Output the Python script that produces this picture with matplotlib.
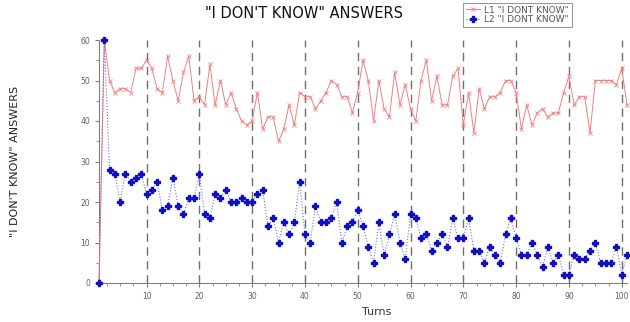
import matplotlib
matplotlib.use("Agg")
from matplotlib import pyplot as plt
from matplotlib.ticker import MultipleLocator
import numpy as np

turns = list(range(1, 102))

l1_dont_know = [0, 60, 50, 47, 48, 48, 47, 53, 53, 55,
                53, 48, 47, 56, 50, 45, 52, 56, 45, 46,
                44, 54, 44, 50, 44, 47, 43, 40, 39, 40,
                47, 38, 41, 41, 35, 38, 44, 39, 47, 46,
                46, 43, 45, 47, 50, 49, 46, 46, 42, 47,
                55, 50, 40, 50, 43, 41, 52, 44, 49, 43,
                40, 50, 55, 45, 51, 44, 44, 51, 53, 39,
                47, 37, 48, 43, 46, 46, 47, 50, 50, 47,
                38, 44, 39, 42, 43, 41, 42, 42, 47, 51,
                44, 46, 46, 37, 50, 50, 50, 50, 49, 53,
                44]

l2_dont_know = [0, 60, 28, 27, 20, 27, 25, 26, 27, 22,
                23, 25, 18, 19, 26, 19, 17, 21, 21, 27,
                17, 16, 22, 21, 23, 20, 20, 21, 20, 20,
                22, 23, 14, 16, 10, 15, 12, 15, 25, 12,
                10, 19, 15, 15, 16, 20, 10, 14, 15, 18,
                14, 9, 5, 15, 7, 12, 17, 10, 6, 17,
                16, 11, 12, 8, 10, 12, 9, 16, 11, 11,
                16, 8, 8, 5, 9, 7, 5, 12, 16, 11,
                7, 7, 10, 7, 4, 9, 5, 7, 2, 2,
                7, 6, 6, 8, 10, 5, 5, 5, 9, 2,
                7]

fig = plt.figure(figsize=(6.3, 3.22), dpi=100)
ax = fig.add_axes([99 / 630, 1 - 283 / 322, 528 / 630, 243 / 322])

for x in range(10, 101, 10):
    ax.axvline(x, color="#707070", linestyle=(0, (6, 4)), linewidth=1.0, zorder=1)

ax.plot(turns, l1_dont_know, color="#f08080", linewidth=0.7, marker="x",
        markersize=3.5, markeredgewidth=0.6, label='L1 "I DONT KNOW"',
        zorder=3, clip_on=False)
ax.plot(turns, l2_dont_know, color="#7070e8", linestyle=":", linewidth=0.8,
        marker="P", markersize=4.5, markerfacecolor="#1010c0",
        markeredgecolor="#1010c0", label='L2 "I DONT KNOW"', zorder=4,
        clip_on=False)

ax.set_xlim(1, 101)
ax.set_ylim(0, 60)
ax.xaxis.set_major_locator(MultipleLocator(10))
ax.xaxis.set_minor_locator(MultipleLocator(2.5))
ax.yaxis.set_major_locator(MultipleLocator(10))
ax.yaxis.set_minor_locator(MultipleLocator(5))

for side in ["top", "right"]:
    ax.spines[side].set_visible(False)
for side in ["left", "bottom"]:
    ax.spines[side].set_color("#808080")
    ax.spines[side].set_linewidth(0.8)

ax.tick_params(which="both", colors="#808080", labelsize=5.5, direction="out")
ax.tick_params(which="major", length=3)
ax.tick_params(which="minor", length=2)
for lbl in ax.get_xticklabels() + ax.get_yticklabels():
    lbl.set_color("#606060")

ax.set_xlabel("Turns", fontsize=8, color="#333333")
ax.xaxis.set_label_coords((377 - 99) / 528, -0.1)
ax.set_ylabel('"I DON\'T KNOW" ANSWERS', fontsize=8, color="#222222")
ax.yaxis.set_label_coords(-0.15, 0.5)

fig.text(304 / 630, 1 - 14 / 322, '"I DON\'T KNOW" ANSWERS', fontsize=10.5,
         ha="center", va="center", color="#111111")

leg = fig.legend(loc="upper left", bbox_to_anchor=(461 / 630, 1 - 1 / 322),
                 fontsize=6.5, frameon=True, fancybox=False, borderpad=0.3,
                 labelspacing=0.1, handlelength=1.6, handletextpad=0.5,
                 borderaxespad=0.2)
leg.get_frame().set_edgecolor("#808080")
leg.get_frame().set_linewidth(0.8)
for t in leg.get_texts():
    t.set_color("#555555")

fig.savefig("out.png", dpi=100)
